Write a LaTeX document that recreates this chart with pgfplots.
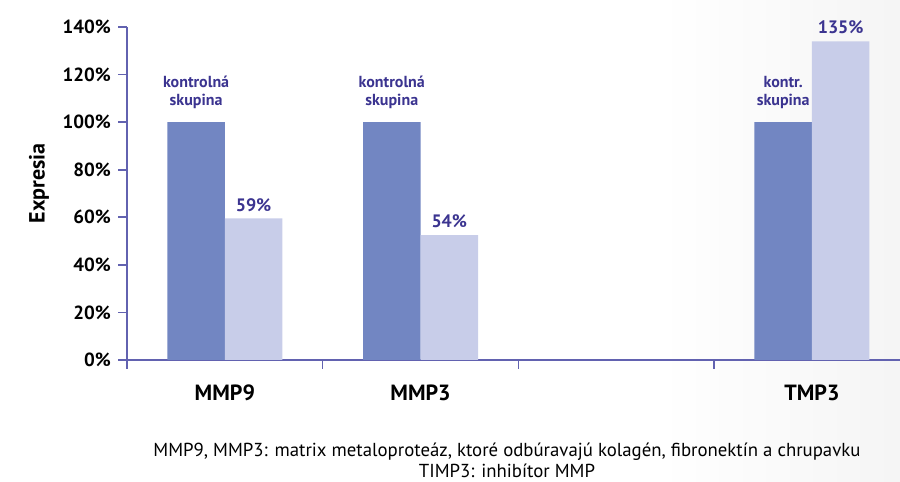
\documentclass[border=0pt]{standalone}
\usepackage{fontspec}
\setmainfont{PT Sans}
\usepackage{pgfplots}
\pgfplotsset{compat=1.18}

\definecolor{darkbar}{HTML}{7286C2}
\definecolor{lightbar}{HTML}{C8CDE9}
\definecolor{labtxt}{HTML}{3B3490}
\definecolor{axline}{HTML}{6262B0}

\begin{document}
\begin{tikzpicture}[x=1pt,y=1pt]
\useasboundingbox (0,0) rectangle (450,241);
\shade[left color=white, right color=black!4] (330,0) rectangle (450,241);
\begin{axis}[
    at={(63.5pt,61pt)}, anchor=south west,
    scale only axis, width=386.5pt, height=166.5pt,
    ymin=0, ymax=140, xmin=-0.5, xmax=3.45,
    axis lines*=left,
    axis line style={axline, line width=0.8pt},
    tick style={axline, line width=0.8pt},
    tick align=outside, major tick length=4.5pt,
    ytick={0,20,...,140},
    yticklabels={0\%,20\%,40\%,60\%,80\%,100\%,120\%,140\%},
    yticklabel style={font=\bfseries\fontsize{9.5}{11}\selectfont},
    xtick={-0.5,0.5,1.5,2.5}, xticklabels={},
    extra x ticks={0,1,3},
    extra x tick labels={MMP9,MMP3,TMP3},
    extra x tick style={major tick length=0pt,
        tick label style={font=\bfseries\fontsize{11}{13}\selectfont, yshift=-9pt}},
    ylabel={\bfseries Expresia},
    ylabel style={font=\fontsize{11}{13}\selectfont, xshift=5pt},
    ybar=0pt, bar width=28.75pt,
    nodes near coords, point meta=explicit symbolic,
    every node near coord/.append style={color=labtxt, align=center},
]
\addplot[fill=darkbar, draw=none,
    every node near coord/.append style={font=\bfseries\fontsize{8}{9}\selectfont, yshift=3pt}]
    coordinates {(0,100) [kontrolná\\skupina] (1,100) [kontrolná\\skupina] (3,100) [kontr.\\skupina]};
\addplot[fill=lightbar, draw=none,
    every node near coord/.append style={font=\bfseries\fontsize{9}{11}\selectfont}]
    coordinates {(0,59.5) [59\%] (1,52.5) [54\%] (3,134) [135\%]};
\end{axis}
\node[align=center, font=\fontsize{9.4}{10.5}\selectfont] at (253.5,11)
    {MMP9, MMP3: matrix metaloproteáz, ktoré odbúravajú kolagén, fibronektín a chrupavku\\TIMP3: inhibítor MMP};
\end{tikzpicture}
\end{document}
